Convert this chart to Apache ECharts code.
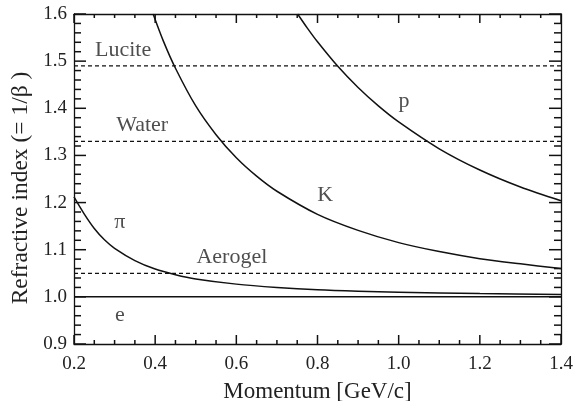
<!DOCTYPE html>
<html>
<head>
<meta charset="utf-8">
<script src="https://cdn.jsdelivr.net/npm/echarts@6/dist/echarts.min.js"></script>
<style>
html,body{margin:0;padding:0;background:#fff;}
#c{width:578px;height:401px;}
</style>
</head>
<body>
<div id="c"></div>
<script>
// Values
var piMomentum = [0.20, 0.225, 0.25, 0.275, 0.30, 0.35, 0.40, 0.45, 0.50, 0.60, 0.70, 0.80, 0.90, 1.00, 1.20, 1.40];
var piIndex    = [1.212, 1.176, 1.145, 1.121, 1.103, 1.077, 1.059, 1.047, 1.038, 1.027, 1.020, 1.015, 1.012, 1.010, 1.007, 1.005];
var kMomentum = [0.395, 0.42, 0.45, 0.50, 0.55, 0.60, 0.65, 0.70, 0.80, 0.90, 1.00, 1.10, 1.20, 1.30, 1.40];
var kIndex    = [1.600, 1.543, 1.485, 1.405, 1.344, 1.295, 1.256, 1.224, 1.175, 1.141, 1.115, 1.096, 1.081, 1.070, 1.060];
var pMomentum = [0.751, 0.775, 0.80, 0.85, 0.90, 0.95, 1.00, 1.10, 1.20, 1.30, 1.40];
var pIndex    = [1.600, 1.570, 1.541, 1.489, 1.444, 1.405, 1.371, 1.314, 1.269, 1.233, 1.204];
var eMomentum = [0.20, 1.40];
var eIndex    = [1.000, 1.000];
var radiatorNames = ['Lucite', 'Water', 'Aerogel'];
var radiatorIndex = [1.49, 1.33, 1.05];
var radiatorRange = [0.20, 1.40];
// annotations: text and anchor (momentum, index)
var annoText = ['Lucite', 'Water', 'π', 'e', 'Aerogel', 'K', 'p'];
var annoX    = [0.321, 0.368, 0.313, 0.313, 0.589, 0.819, 1.013];
var annoY    = [1.524, 1.365, 1.159, 0.961, 1.085, 1.216, 1.415];
// axis ticks
var xMajorTicks = [0.2, 0.4, 0.6, 0.8, 1.0, 1.2, 1.4];
var xMinorTicks = [0.25, 0.3, 0.35, 0.45, 0.5, 0.55, 0.65, 0.7, 0.75, 0.85, 0.9, 0.95, 1.05, 1.1, 1.15, 1.25, 1.3, 1.35];
var yMajorTicks = [0.9, 1.0, 1.1, 1.2, 1.3, 1.4, 1.5, 1.6];
var yMinorTicks = [0.92, 0.94, 0.96, 0.98, 1.02, 1.04, 1.06, 1.08, 1.12, 1.14, 1.16, 1.18,
                   1.22, 1.24, 1.26, 1.28, 1.32, 1.34, 1.36, 1.38, 1.42, 1.44, 1.46, 1.48,
                   1.52, 1.54, 1.56, 1.58];
var xTitle = 'Momentum [GeV/c]';
var yTitle = 'Refractive index (= 1/β )';

var X_MIN = 0.2, X_MAX = 1.4, Y_MIN = 0.9, Y_MAX = 1.6;
function zip(a, b) { return a.map(function (v, i) { return [v, b[i]]; }); }
var FONT = 'Liberation Serif';
var TXT = '#222';
var INK = '#111';

var chart = echarts.init(document.getElementById('c'));
var series = [];
function curve(xs, ys) {
  series.push({type: 'line', data: zip(xs, ys), smooth: 0.3, symbol: 'none',
    lineStyle: {color: INK, width: 1.5}, silent: true, z: 3});
}
curve(piMomentum, piIndex); curve(kMomentum, kIndex); curve(pMomentum, pIndex); curve(eMomentum, eIndex);
radiatorIndex.forEach(function (n) {
  series.push({type: 'line', data: radiatorRange.map(function (x) { return [x, n]; }), symbol: 'none', silent: true,
    lineStyle: {color: INK, width: 1.3, type: [4, 3]}, z: 2});
});
series.push({type: 'scatter', symbolSize: 0, silent: true,
  data: annoText.map(function (t, i) { return {value: [annoX[i], annoY[i]], name: t}; }),
  label: {show: true, position: 'inside', formatter: '{b}', fontFamily: FONT, fontSize: 22, color: TXT}});

// inward ticks on all four sides, placed through the axes' scales
function tickSeries(values, isX, len) {
  series.push({
    type: 'custom', silent: true, clip: false, z: 4,
    data: values.map(function (v) { return isX ? [v, Y_MIN] : [X_MIN, v]; }),
    renderItem: function (params, api) {
      var a, b, shapes;
      if (isX) {
        var xv = api.value(0);
        a = api.coord([xv, Y_MIN]); b = api.coord([xv, Y_MAX]);
        shapes = [[a[0], a[1], a[0], a[1] - len], [b[0], b[1], b[0], b[1] + len]];
      } else {
        var yv = api.value(1);
        a = api.coord([X_MIN, yv]); b = api.coord([X_MAX, yv]);
        shapes = [[a[0], a[1], a[0] + len, a[1]], [b[0], b[1], b[0] - len, b[1]]];
      }
      return {type: 'group', children: shapes.map(function (s) {
        return {type: 'line', shape: {x1: s[0], y1: s[1], x2: s[2], y2: s[3]},
          style: {stroke: INK, lineWidth: 1.5}};
      })};
    }
  });
}
tickSeries(xMajorTicks, true, 9);
tickSeries(xMinorTicks, true, 4);
tickSeries(yMajorTicks, false, 12);
tickSeries(yMinorTicks, false, 7);

function fmt(v) { return v.toFixed(1); }
var X_BASE = {type: 'value', min: X_MIN, max: X_MAX, interval: 0.2, splitLine: {show: false}};
var Y_BASE = {type: 'value', min: Y_MIN, max: Y_MAX, interval: 0.1, splitLine: {show: false}};

chart.setOption({
  animation: false,
  grid: {left: 74, right: 17, top: 14, bottom: 57, outerBoundsMode: 'none', containLabel: false},
  graphic: [{
    type: 'text', x: 21, y: 188, rotation: Math.PI / 2, silent: true,
    style: {text: yTitle, align: 'center', verticalAlign: 'middle',
      font: '23.5px "Liberation Serif"', fill: TXT}
  }],
  xAxis: [
    Object.assign({}, X_BASE, {position: 'bottom',
      name: xTitle, nameLocation: 'middle', nameGap: 36,
      nameTextStyle: {fontFamily: FONT, fontSize: 23, color: TXT},
      axisLine: {show: true, onZero: false, lineStyle: {color: INK, width: 1.3}},
      axisTick: {show: false},
      axisLabel: {fontFamily: FONT, fontSize: 19, color: TXT, margin: 11, formatter: fmt}}),
    Object.assign({}, X_BASE, {position: 'top',
      axisLine: {show: true, onZero: false, lineStyle: {color: INK, width: 1.3}},
      axisTick: {show: false}, axisLabel: {show: false}})
  ],
  yAxis: [
    Object.assign({}, Y_BASE, {position: 'left',
      axisLine: {show: true, onZero: false, lineStyle: {color: INK, width: 1.3}},
      axisTick: {show: false},
      axisLabel: {fontFamily: FONT, fontSize: 19, color: TXT, margin: 7, formatter: fmt}}),
    Object.assign({}, Y_BASE, {position: 'right',
      axisLine: {show: true, onZero: false, lineStyle: {color: INK, width: 1.3}},
      axisTick: {show: false}, axisLabel: {show: false}})
  ],
  series: series
});
</script>
</body>
</html>
